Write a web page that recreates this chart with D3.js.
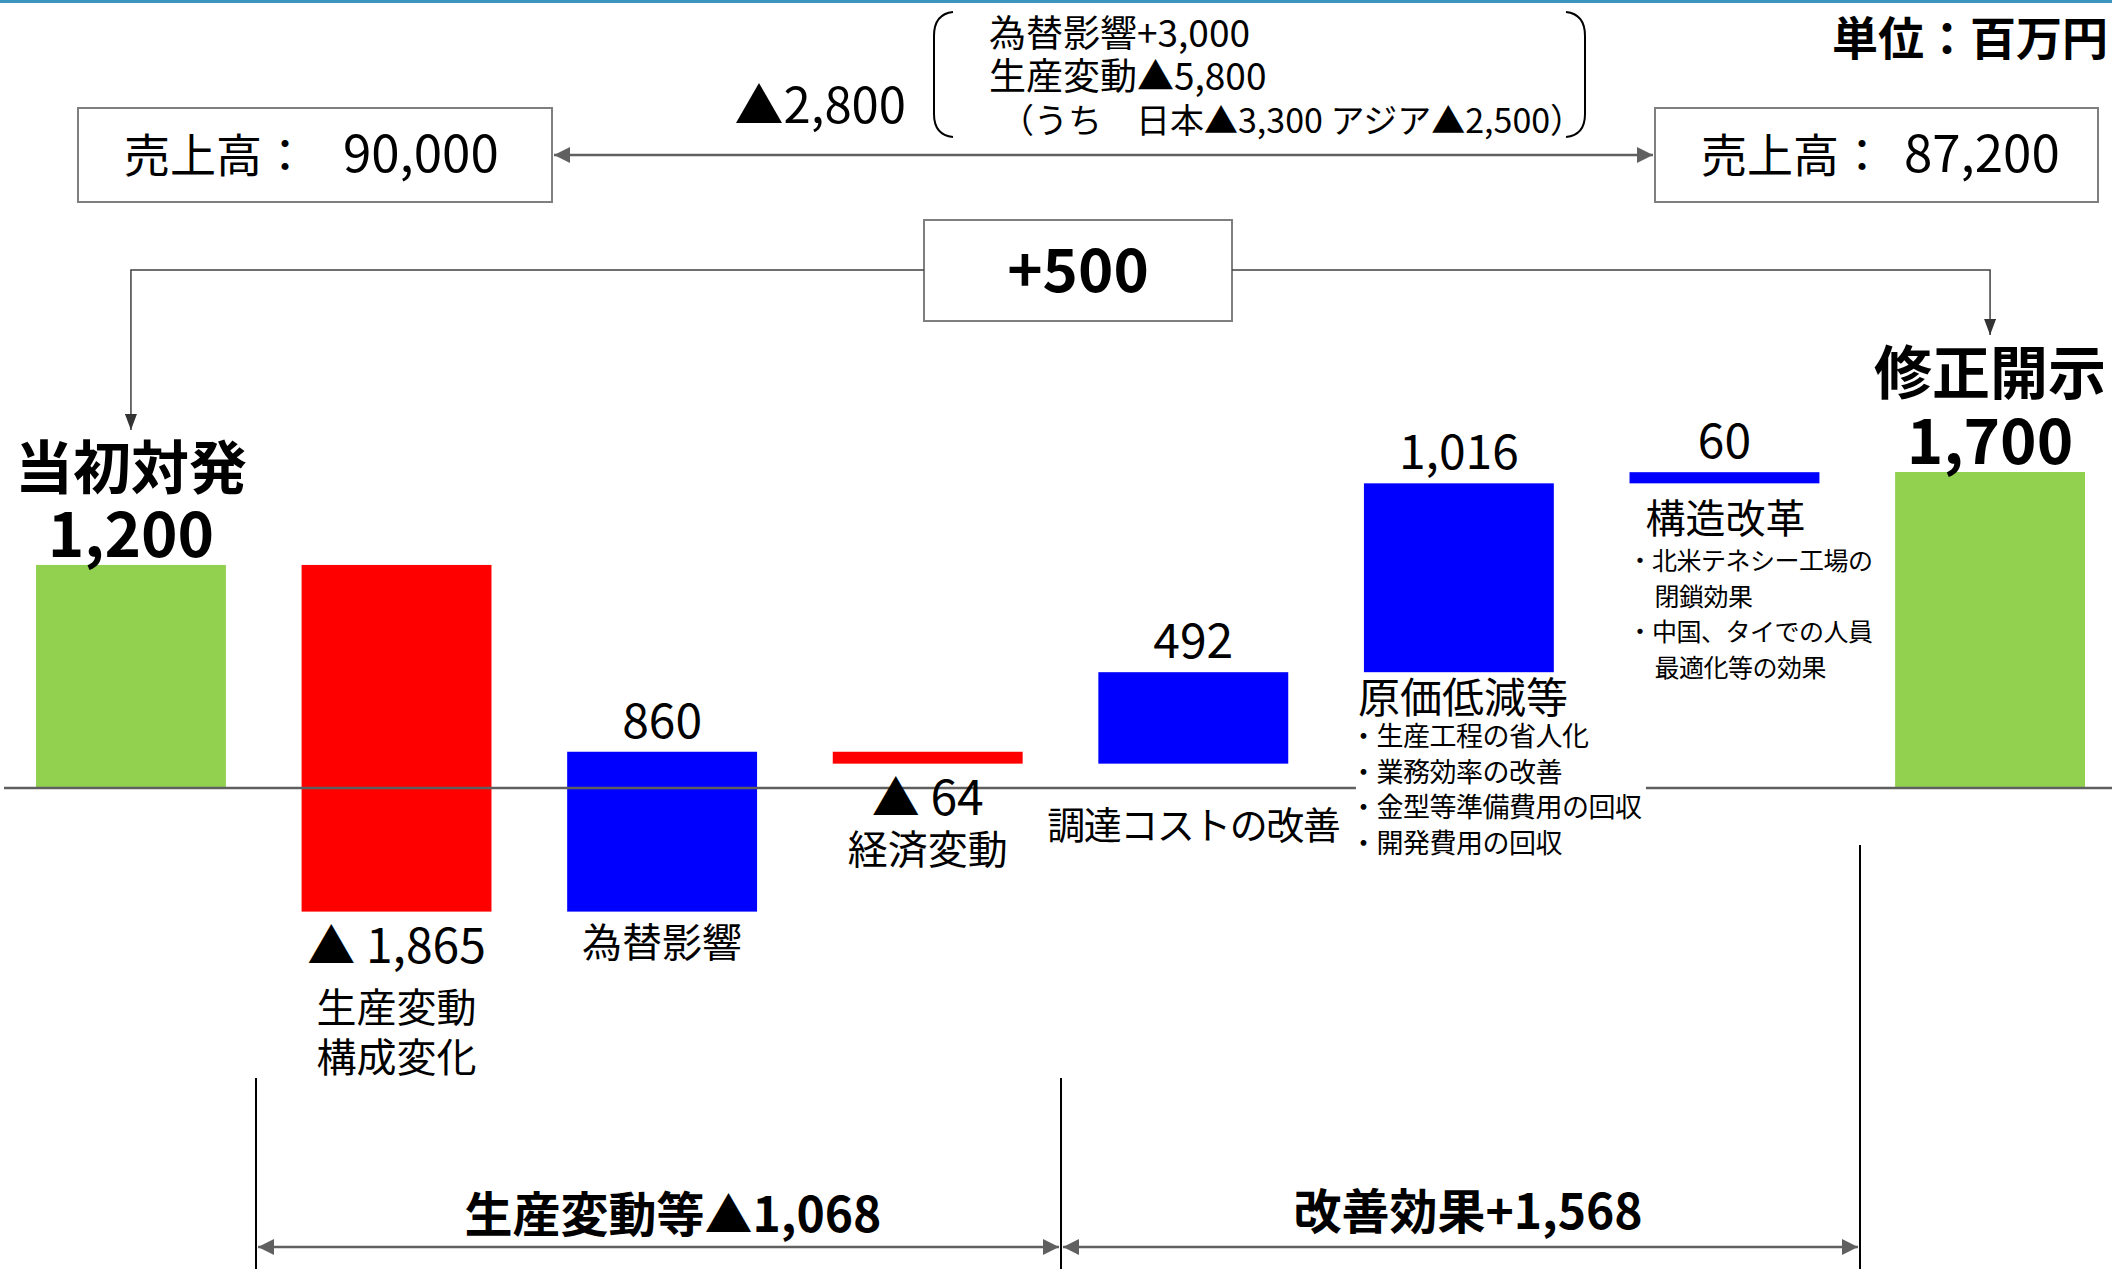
<!DOCTYPE html>
<html>
<head>
<meta charset="utf-8">
<script src="https://cdn.jsdelivr.net/npm/d3@7"></script>
<style>
  body { margin: 0; background: #fff; }
  svg { display: block; font-family: "Noto Sans CJK JP", sans-serif; }
</style>
</head>
<body>
<div id="chart"></div>
<script>
// waterfall data (単位：百万円)
const categories = ["当初対発", "生産変動構成変化", "為替影響", "経済変動", "調達コストの改善", "原価低減等", "構造改革", "修正開示"];
const deltas = [1200, -1865, 860, -64, 492, 1016, 60, 1700];
const kinds = ["total", "down", "up", "down", "up", "up", "up", "total"];
const valueLabels = ["1,200", "▲ 1,865", "860", "▲ 64", "492", "1,016", "60", "1,700"];

// note texts
const genkaNotes = ["・生産工程の省人化", "・業務効率の改善", "・金型等準備費用の回収", "・開発費用の回収"];
const kouzouNotes = ["・北米テネシー工場の", "閉鎖効果", "・中国、タイでの人員", "最適化等の効果"];
const salesBefore = "90,000";
const salesAfter = "87,200";
const salesDiff = "▲2,800";
const salesBreakdown = ["為替影響+3,000", "生産変動▲5,800", "（うち　日本▲3,300 アジア▲2,500）"];
const profitDiff = "+500";
const groupLabels = ["生産変動等▲1,068", "改善効果+1,568"];

const width = 2112, height = 1269;
const colors = { total: "#92d050", up: "#0000ff", down: "#ff0000" };

// running totals
let run = 0;
const bars = deltas.map((d, i) => {
  let start, end;
  if (kinds[i] === "total") { start = 0; end = d; run = d; }
  else { start = run; end = run + d; run = end; }
  return { name: categories[i], kind: kinds[i], start, end, label: valueLabels[i], i };
});

const x = d3.scaleBand().domain(categories).range([36, 2085]).paddingInner(0.285).paddingOuter(0);
const y = d3.scaleLinear().domain([0, 1700]).range([788, 472]);

const svg = d3.select("#chart").append("svg")
  .attr("width", width).attr("height", height);

const defs = svg.append("defs");
function marker(id, color, w, h) {
  defs.append("marker").attr("id", id)
    .attr("viewBox", `0 0 ${w} ${h}`).attr("refX", w).attr("refY", h / 2)
    .attr("markerWidth", w).attr("markerHeight", h)
    .attr("markerUnits", "userSpaceOnUse").attr("orient", "auto-start-reverse")
    .append("path").attr("d", `M0,0L${w},${h / 2}L0,${h}Z`).attr("fill", color);
}
marker("grayArrow", "#606060", 16, 16);
marker("blackArrow", "#333", 16, 12);

// top stripe
svg.append("rect").attr("x", 0).attr("y", 0).attr("width", width).attr("height", 3).attr("fill", "#3b95bf");

// unit
svg.append("text").attr("x", 2108).attr("y", 55).attr("text-anchor", "end")
  .attr("font-size", 46).attr("font-weight", "bold").text("単位：百万円");

// sales boxes
function salesBox(x0, x1, numX, val) {
  svg.append("rect").attr("x", x0).attr("y", 108).attr("width", x1 - x0).attr("height", 94)
    .attr("fill", "#fff").attr("stroke", "#7f7f7f").attr("stroke-width", 2);
  const t = svg.append("text").attr("y", 172).attr("font-size", 46);
  t.append("tspan").attr("x", x0 + 46).text("売上高：");
  t.append("tspan").attr("x", numX).attr("font-size", 51).text(val);
}
salesBox(78, 552, 343, salesBefore);
salesBox(1655, 2098, 1904, salesAfter);

svg.append("line").attr("x1", 554).attr("x2", 1653).attr("y1", 155).attr("y2", 155)
  .attr("stroke", "#606060").attr("stroke-width", 2.5)
  .attr("marker-start", "url(#grayArrow)").attr("marker-end", "url(#grayArrow)");

svg.append("text").attr("x", 906).attr("y", 123).attr("text-anchor", "end")
  .attr("font-size", 49).text(salesDiff);

// brackets
svg.append("path").attr("d", "M953,12 Q934,14 934,36 L934,114 Q934,135 953,137")
  .attr("fill", "none").attr("stroke", "#000").attr("stroke-width", 2);
svg.append("path").attr("d", "M1566,12 Q1585,14 1585,36 L1585,114 Q1585,135 1566,137")
  .attr("fill", "none").attr("stroke", "#000").attr("stroke-width", 2);
svg.selectAll(".breakdown").data(salesBreakdown).enter().append("text")
  .attr("class", "breakdown")
  .attr("x", (d, i) => i === 2 ? 1000 : 989).attr("y", (d, i) => 47 + i * 43)
  .attr("font-size", (d, i) => i === 2 ? 34 : 37)
  .text(d => d);

// +500 box and connectors
svg.append("rect").attr("x", 924).attr("y", 220).attr("width", 308).attr("height", 101)
  .attr("fill", "#fff").attr("stroke", "#7f7f7f").attr("stroke-width", 2);
svg.append("text").attr("x", 1078).attr("y", 292).attr("text-anchor", "middle")
  .attr("font-size", 60).attr("font-weight", "bold").text(profitDiff);

const firstCx = x(categories[0]) + x.bandwidth() / 2;
const lastCx = x(categories[7]) + x.bandwidth() / 2;
svg.append("polyline").attr("points", `924,270 ${firstCx},270 ${firstCx},430`)
  .attr("fill", "none").attr("stroke", "#404040").attr("stroke-width", 1.5)
  .attr("marker-end", "url(#blackArrow)");
svg.append("polyline").attr("points", `1232,270 ${lastCx},270 ${lastCx},335`)
  .attr("fill", "none").attr("stroke", "#404040").attr("stroke-width", 1.5)
  .attr("marker-end", "url(#blackArrow)");

// bars
svg.selectAll(".bar").data(bars).enter().append("rect")
  .attr("class", "bar")
  .attr("x", d => x(d.name))
  .attr("width", x.bandwidth())
  .attr("y", d => y(Math.max(d.start, d.end)))
  .attr("height", d => Math.abs(y(d.start) - y(d.end)))
  .attr("fill", d => colors[d.kind]);

// zero line
svg.append("line").attr("x1", 4).attr("x2", width).attr("y1", y(0)).attr("y2", y(0))
  .attr("stroke", "#5f5f5f").attr("stroke-width", 2.5);

// value labels
svg.selectAll(".val").data(bars).enter().append("text")
  .attr("class", "val")
  .attr("x", d => x(d.name) + x.bandwidth() / 2)
  .attr("y", d => {
    const top = y(Math.max(d.start, d.end)), bot = y(Math.min(d.start, d.end));
    if (d.kind === "down") return bot + 51;
    if (d.kind === "total") return top - 8;
    return top - 14;
  })
  .attr("text-anchor", "middle")
  .attr("font-size", d => d.kind === "total" ? 62 : 48)
  .attr("font-weight", d => d.kind === "total" ? "bold" : "normal")
  .text(d => d.label);

// category labels
const cx = i => x(categories[i]) + x.bandwidth() / 2;
const barTop = i => y(Math.max(bars[i].start, bars[i].end));
const barBot = i => y(Math.min(bars[i].start, bars[i].end));
function label(tx, ty, txt, size, opts = {}) {
  return svg.append("text").attr("x", tx).attr("y", ty)
    .attr("text-anchor", opts.anchor || "middle")
    .attr("font-size", size).attr("font-weight", opts.bold ? "bold" : "normal")
    .attr("letter-spacing", opts.ls || 0)
    .text(txt);
}
label(cx(0), barTop(0) - 76, categories[0], 58, { bold: true });
label(cx(7), barTop(7) - 78, categories[7], 58, { bold: true });
label(cx(1), barBot(1) + 110, categories[1].slice(0, 4), 40);
label(cx(1), barBot(1) + 160, categories[1].slice(4), 40);
label(cx(2), barBot(2) + 45, categories[2], 40);
label(cx(3), barBot(3) + 100, categories[3], 40);
label(cx(4), y(0) + 51, categories[4], 38, { ls: -1.5 });

// 原価低減等 block (white background over zero line)
const gx = x(categories[5]);
svg.append("rect").attr("x", gx - 8).attr("y", barBot(5) + 4).attr("width", 290).attr("height", 190).attr("fill", "#fff");
label(gx - 6, barBot(5) + 41, categories[5], 42, { anchor: "start" });
genkaNotes.forEach((t, i) => label(gx - 14, barBot(5) + 74 + i * 35.5, t, 27, { anchor: "start", ls: -0.5 }));

// 構造改革 block
const kx = x(categories[6]);
label(kx + 16, barBot(6) + 50, categories[6], 40, { anchor: "start" });
kouzouNotes.forEach((t, i) => label(kx + (t.startsWith("・") ? -2 : 25), barBot(6) + 87 + i * 35.5, t, 25, { anchor: "start", ls: -0.5 }));

// bottom group brackets
[[256, 1078], [1061, 1078], [1860, 845]].forEach(([vx, vy]) => {
  svg.append("line").attr("x1", vx).attr("x2", vx).attr("y1", vy).attr("y2", height)
    .attr("stroke", "#000").attr("stroke-width", 2);
});
[[256, 1061], [1061, 1860]].forEach(([a, b]) => {
  svg.append("line").attr("x1", a + 2).attr("x2", b - 2).attr("y1", 1247).attr("y2", 1247)
    .attr("stroke", "#606060").attr("stroke-width", 2.5)
    .attr("marker-start", "url(#grayArrow)").attr("marker-end", "url(#grayArrow)");
});
label(673, 1232, groupLabels[0], 48, { bold: true });
label(1468, 1229, groupLabels[1], 48, { bold: true });
</script>
</body>
</html>
